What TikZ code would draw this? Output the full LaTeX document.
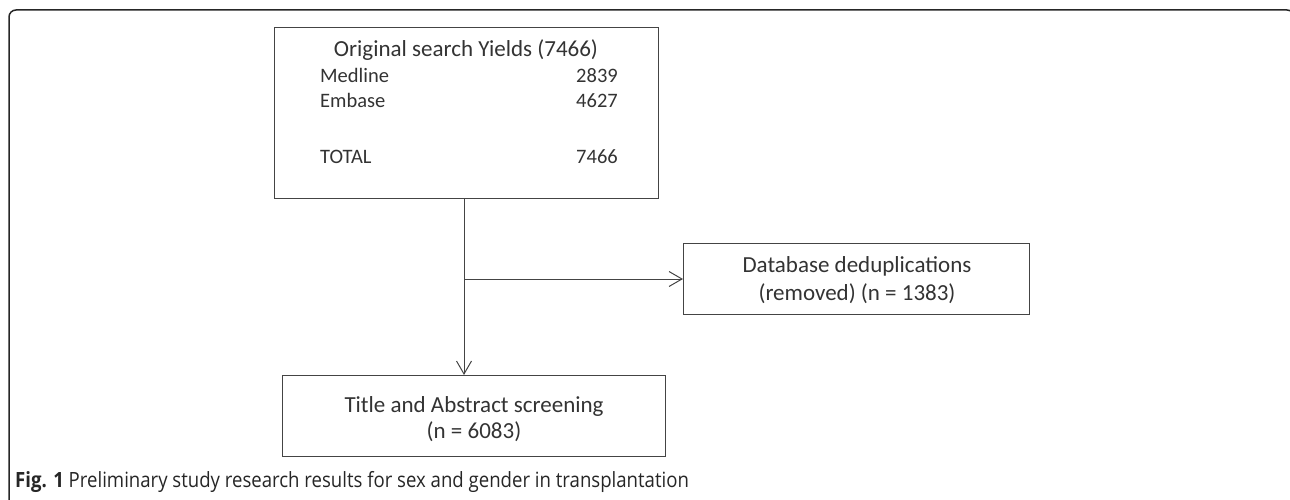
\documentclass[tikz,border=0pt]{standalone}
\usepackage{fontspec}
\setmainfont{Carlito}
\newfontfamily\capfont{Open Sans}[FakeStretch=0.885]
\usetikzlibrary{arrows.meta}
\definecolor{ink}{HTML}{333333}
\definecolor{linegray}{HTML}{444444}
\tikzset{
  box/.style={draw=linegray, line width=1.3pt, inner sep=0pt, anchor=north west},
  boxtitle/.style={text=ink, font=\fontsize{23}{28}\selectfont, inner sep=0pt, anchor=base},
  listtext/.style={text=ink, font=\fontsize{20.5}{25}\selectfont, inner sep=0pt},
  flow/.style={draw=linegray, line width=1pt, -{Straight Barb[length=13pt,width=15pt,line width=1pt]}},
  frame/.style={draw=black!85, line width=1.5pt, rounded corners=7pt}
}
\begin{document}
\begin{tikzpicture}[x=1pt,y=-1pt]
  \useasboundingbox (0,0) rectangle (1290,500);
  % panel outline, running off the right and bottom edges
  \begin{scope}
    \clip (0,0) rectangle (1290,500);
    \draw[frame] (9,10) rectangle (1294,506);
  \end{scope}

  % search results box
  \node[box, minimum width=384pt, minimum height=171pt] (search) at (274,27) {};
  \node[boxtitle] (searchtitle) at (466,57) {Original search Yields (7466)};
  \node[listtext, anchor=base west] (medline) at (320,83) {Medline};
  \node[listtext, anchor=base east] (medlinen) at (618,83) {2839};
  \node[listtext, anchor=base west] (embase) at (320,108) {Embase};
  \node[listtext, anchor=base east] (embasen) at (618,108) {4627};
  \node[listtext, anchor=base west] (total) at (320,163) {TOTAL};
  \node[listtext, anchor=base east] (totaln) at (618,163) {7466};

  % removed duplicates box
  \node[box, minimum width=346pt, minimum height=71pt] (dedup) at (683,243) {};
  \node[boxtitle] (deduptext1) at (857,272) {Database deduplications};
  \node[boxtitle] (deduptext2) at (857,300) {(removed) (n = 1383)};

  % screening box
  \node[box, minimum width=383pt, minimum height=81pt] (screen) at (282,375) {};
  \node[boxtitle] (screentext1) at (474,412) {Title and Abstract screening};
  \node[boxtitle] (screentext2) at (474,438) {(n = 6083)};

  % connectors
  \coordinate (split) at (464,279);
  \draw[flow] (search.south -| split) -- (screen.north -| split);
  \draw[flow] (split) -- (dedup.west |- split);

  % caption
  \node[anchor=base west, inner sep=0pt, text=black!85, font=\capfont\fontsize{21}{24}\selectfont] (caption) at (15,487)
    {\textbf{Fig. 1} Preliminary study research results for sex and gender in transplantation};
\end{tikzpicture}
\end{document}
